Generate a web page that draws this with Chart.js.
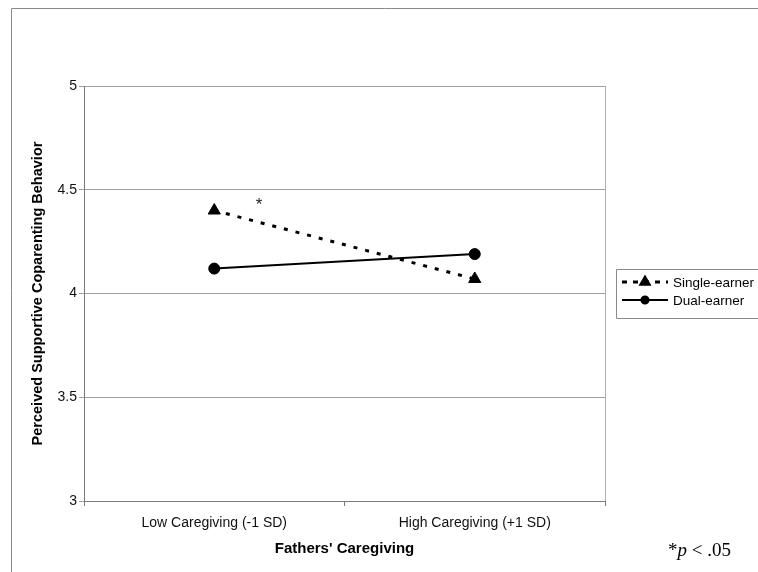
<!DOCTYPE html>
<html>
<head>
<meta charset="utf-8">
<script src="https://cdn.jsdelivr.net/npm/chart.js@4.4.0/dist/chart.umd.min.js"></script>
<style>
  html, body { margin: 0; padding: 0; background: #fff; }
  #wrap { width: 758px; height: 572px; position: relative; }
</style>
</head>
<body>
<div id="wrap"><canvas id="interactionChart"></canvas></div>
<script>
// Data
const categories = ['Low Caregiving (-1 SD)', 'High Caregiving (+1 SD)'];
const singleEarner = [4.40, 4.07];
const dualEarner = [4.12, 4.19];
const yTicks = [3, 3.5, 4, 4.5, 5];
const seriesNames = ['Single-earner', 'Dual-earner'];

const sans = '"Liberation Sans", Arial, sans-serif';

// frame, plot border, legend box, asterisk and footnote
const extras = {
    id: 'extras',
    beforeDraw(chart) {
        const c = chart.ctx;
        c.save();
        c.fillStyle = '#fff';
        c.fillRect(0, 0, chart.width, chart.height);
        c.restore();
    },
    afterDraw(chart) {
        const c = chart.ctx;
        const area = chart.chartArea;
        c.save();

        // outer frame (top + left)
        c.strokeStyle = '#8a8a8a';
        c.lineWidth = 1;
        c.beginPath();
        c.moveTo(11.5, chart.height);
        c.lineTo(11.5, 8.5);
        c.lineTo(chart.width, 8.5);
        c.stroke();

        // right edge of plot
        c.strokeStyle = '#b0b0b0';
        c.beginPath();
        c.moveTo(Math.round(area.right) + 0.5, area.top);
        c.lineTo(Math.round(area.right) + 0.5, area.bottom);
        c.stroke();

        // legend
        c.strokeStyle = '#8a8a8a';
        c.beginPath();
        c.moveTo(chart.width, 269.5);
        c.lineTo(616.5, 269.5);
        c.lineTo(616.5, 318.5);
        c.lineTo(chart.width, 318.5);
        c.stroke();

        const rows = [282, 300];
        chart.data.datasets.forEach((ds, i) => {
            const y = rows[i];
            c.strokeStyle = '#000';
            c.fillStyle = '#000';
            c.lineWidth = ds.borderWidth;
            c.setLineDash(ds.borderDash ? [5, 6] : []);
            c.beginPath();
            c.moveTo(622, y);
            c.lineTo(668, y);
            c.stroke();
            c.setLineDash([]);
            Chart.helpers.drawPoint(c, {
                pointStyle: ds.pointStyle,
                radius: ds.pointRadius * 0.65,
                rotation: 0,
                borderWidth: 1
            }, 645, y);
            c.font = '13.5px ' + sans;
            c.textBaseline = 'middle';
            c.textAlign = 'left';
            c.fillText(ds.label, 673, y + 1);
        });

        // significance marker
        c.fillStyle = '#222';
        c.font = '17px ' + sans;
        c.textAlign = 'center';
        c.textBaseline = 'middle';
        c.fillText('*', 259, 205);

        // footnote
        c.fillStyle = '#000';
        c.textAlign = 'left';
        c.textBaseline = 'alphabetic';
        c.font = '19px "Liberation Serif", "Times New Roman", serif';
        let x = 668;
        c.fillText('*', x, 556);
        x += c.measureText('*').width;
        c.font = 'italic 19px "Liberation Serif", "Times New Roman", serif';
        c.fillText('p', x, 556);
        x += c.measureText('p').width;
        c.font = '19px "Liberation Serif", "Times New Roman", serif';
        c.fillText(' < .05', x, 556);

        c.restore();
    }
};

const ctx = document.getElementById('interactionChart').getContext('2d');
const interactionChart = new Chart(ctx, {
    type: 'line',
    data: {
        labels: categories,
        datasets: [{
            label: seriesNames[0],
            data: singleEarner,
            borderColor: '#000',
            backgroundColor: '#000',
            borderWidth: 3,
            borderDash: [4, 8],
            pointStyle: 'triangle',
            pointRadius: 7,
            pointBorderWidth: 1,
            tension: 0
        }, {
            label: seriesNames[1],
            data: dualEarner,
            borderColor: '#000',
            backgroundColor: '#000',
            borderWidth: 2,
            pointStyle: 'circle',
            pointRadius: 5.5,
            pointBorderWidth: 1,
            tension: 0
        }]
    },
    options: {
        responsive: true,
        maintainAspectRatio: false,
        animation: false,
        layout: {
            padding: { top: 86, right: 153, bottom: 0, left: 0 }
        },
        plugins: {
            legend: { display: false },
            tooltip: { enabled: false }
        },
        scales: {
            x: {
                type: 'category',
                offset: true,
                grid: {
                    offset: true,
                    drawOnChartArea: false,
                    tickLength: 5,
                    color: '#7a7a7a'
                },
                border: { color: '#7a7a7a' },
                ticks: {
                    color: '#111',
                    padding: 9,
                    maxRotation: 0,
                    font: { family: sans, size: 14 }
                },
                title: {
                    display: true,
                    text: "Fathers' Caregiving",
                    color: '#000',
                    font: { family: sans, size: 15, weight: 'bold' },
                    padding: { top: 0, bottom: 14 }
                },
                afterFit(scale) { scale.height = 71; }
            },
            y: {
                min: 3,
                max: 5,
                afterBuildTicks(scale) {
                    scale.ticks = yTicks.map(v => ({ value: v }));
                },
                grid: {
                    color: '#a0a0a0',
                    tickLength: 5
                },
                border: { color: '#7a7a7a' },
                ticks: {
                    color: '#111',
                    padding: 2,
                    font: { family: sans, size: 14 },
                    callback: v => String(v)
                },
                title: {
                    display: true,
                    text: 'Perceived Supportive Coparenting Behavior',
                    color: '#000',
                    font: { family: sans, size: 14.5, weight: 'bold' },
                    padding: { top: 29, bottom: 0 }
                },
                afterFit(scale) { scale.width = 84; }
            }
        }
    },
    plugins: [extras]
});
</script>
</body>
</html>
